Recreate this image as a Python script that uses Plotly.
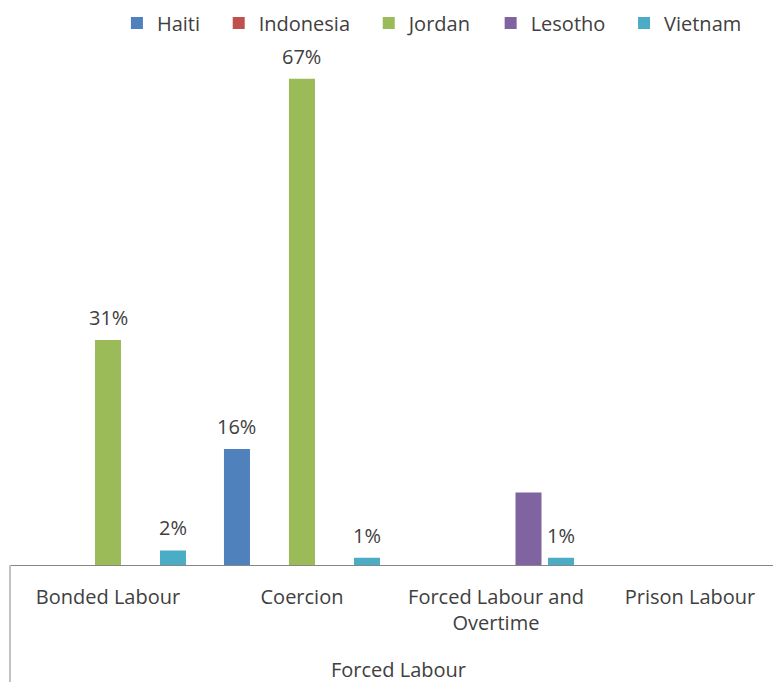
import plotly.graph_objects as go

# Forced labour findings by country
categories = ["Bonded Labour", "Coercion", "Forced Labour and<br>Overtime", "Prison Labour"]
group_label = "Forced Labour"

series_names = ["Haiti", "Indonesia", "Jordan", "Lesotho", "Vietnam"]
haiti = [None, 0.16, None, None]
indonesia = [None, None, None, None]
jordan = [0.31, 0.67, None, None]
lesotho = [None, None, 0.10, None]
vietnam = [0.02, 0.01, 0.01, None]

# which series show value labels above their bars
labelled = {"Haiti": True, "Indonesia": True, "Jordan": True, "Lesotho": False, "Vietnam": True}

colors = ["#4F81BD", "#C0504D", "#9BBB59", "#8064A2", "#4BACC6"]
values = [haiti, indonesia, jordan, lesotho, vietnam]

FONT = "Open Sans"
FS = 20
TXT = "#404040"
BARGAP = 0.162
LEGEND_PAD = "\u00a0\u00a0\u2009"  # extra room between legend entries

fig = go.Figure()
xs = list(range(len(categories)))
for name, vals, col in zip(series_names, values, colors):
    fig.add_trace(go.Bar(
        x=xs, y=vals, name=name + LEGEND_PAD,
        marker=dict(color=col, line=dict(width=0)),
        hoverinfo="skip",
    ))

# value labels, centred over each bar of the group
n = len(series_names)
slot = (1 - BARGAP) / n
for i, (name, vals) in enumerate(zip(series_names, values)):
    if not labelled[name]:
        continue
    for xi, v in zip(xs, vals):
        if v is None:
            continue
        fig.add_annotation(
            x=xi + (i - (n - 1) / 2) * slot, y=v, xref="x", yref="y",
            text=f"{round(v * 100)}%", showarrow=False,
            yanchor="bottom", yshift=7,
            font=dict(family=FONT, size=FS, color=TXT),
        )

fig.update_layout(
    width=773, height=682,
    margin=dict(l=11, r=0, t=57, b=117),
    paper_bgcolor="white", plot_bgcolor="white",
    barmode="group", bargap=BARGAP, bargroupgap=0.2,
    font=dict(family=FONT, size=FS, color=TXT),
    showlegend=True,
    legend=dict(
        orientation="h", x=0.139, xanchor="left",
        y=0.995, yanchor="top", yref="container",
        font=dict(family=FONT, size=FS, color=TXT),
        itemwidth=30, traceorder="normal",
    ),
    xaxis=dict(
        tickvals=xs, ticktext=categories,
        range=[-0.5, 3.428],
        showline=True, linecolor="#868686", linewidth=1,
        showgrid=False, zeroline=False,
        ticks="", ticklabelstandoff=14,
        tickfont=dict(family=FONT, size=FS, color=TXT),
    ),
    yaxis=dict(
        range=[0, 0.70], visible=False, showgrid=False, zeroline=False,
    ),
)

# outer category divider on the left and the group label below the ticks
fig.add_shape(type="line", xref="paper", yref="paper",
              x0=-0.0013, x1=-0.0013, y0=0, y1=-117 / 508,
              line=dict(color="#868686", width=1))
fig.add_annotation(x=1.5, y=0, xref="x", yref="paper",
                   yanchor="middle", yshift=-104,
                   text=group_label, showarrow=False,
                   font=dict(family=FONT, size=FS, color=TXT))

fig.write_html("out.html")
